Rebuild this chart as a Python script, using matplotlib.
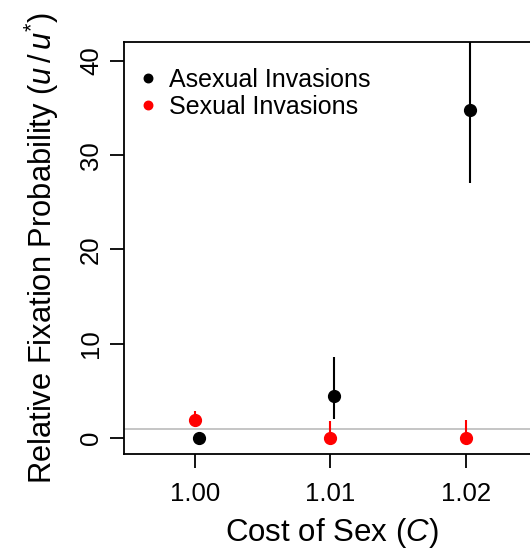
import numpy as np
import matplotlib
matplotlib.use("Agg")
import matplotlib.pyplot as plt

plt.rcParams['font.family'] = ['Liberation Sans', 'DejaVu Sans']
plt.rcParams['mathtext.fontset'] = 'custom'
plt.rcParams['mathtext.rm'] = 'Liberation Sans'
plt.rcParams['mathtext.it'] = 'Liberation Sans:italic'

# cost of sex values
cost = [1.00, 1.01, 1.02]

# asexual invasions (black), plotted with a small offset in x
asex_val = [0.0, 4.5, 34.8]
asex_lo = [0.0, 2.0, 27.0]
asex_hi = [0.0, 8.6, 45.0]

# sexual invasions (red)
sex_val = [1.9, 0.0, 0.0]
sex_lo = [1.9, 0.0, 0.0]
sex_hi = [2.9, 1.8, 1.9]

offset = 0.0003

fig = plt.figure(figsize=(5.30, 5.54), dpi=100)
ax = fig.add_axes([124/530, 1 - 454/554, 1.02 - 124/530, (454 - 42)/554])

ax.axhline(1.0, color='#bbbbbb', lw=1.2, zorder=1)

xa = np.array(cost) + offset
ax.vlines(xa, asex_lo, asex_hi, color='black', lw=1.5, zorder=2)
ax.plot(xa, asex_val, 'o', color='black', ms=8.5, zorder=3, label='Asexual Invasions')

ax.vlines(cost, sex_lo, sex_hi, color='red', lw=1.5, zorder=2)
ax.plot(cost, sex_val, 'o', color='red', ms=8.5, zorder=3, label='Sexual Invasions')

ax.set_xlim(0.99476, 1.02472 + 0.0008)
ax.set_ylim(-1.7, 42.0)
ax.set_xticks(cost)
ax.set_xticklabels(['1.00', '1.01', '1.02'])
ax.set_yticks([0, 10, 20, 30, 40])
ax.set_yticklabels(['0', '10', '20', '30', '40'], rotation=90, va='center')

for s in ax.spines.values():
    s.set_linewidth(1.3)
ax.tick_params(axis='both', length=10, width=1.3, labelsize=18.5)
ax.tick_params(axis='x', pad=10)
ax.tick_params(axis='y', pad=5)

ax.set_xlabel('Cost of Sex $(C)$', fontsize=22.5, labelpad=7)
ax.set_ylabel('Relative Fixation Probability $(u\\,/\\,u^{*})$', fontsize=22.2, labelpad=13)

leg = ax.legend(loc='upper left', frameon=False, fontsize=18, markerscale=0.72,
                handlelength=0.8, handletextpad=0.45, borderaxespad=0.3,
                labelspacing=0.12, bbox_to_anchor=(-0.008, 0.98))

fig.savefig('out.png', dpi=100)
